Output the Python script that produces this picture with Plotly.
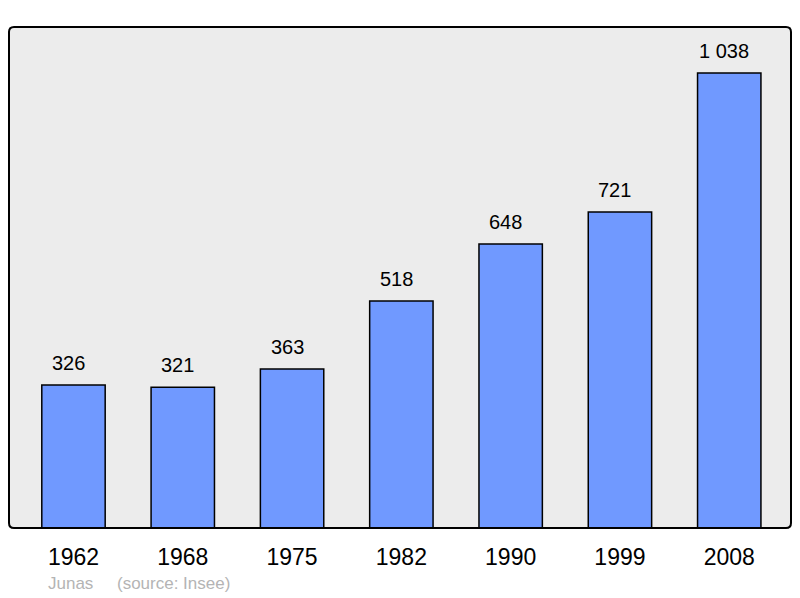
import plotly.graph_objects as go

years = ["1962", "1968", "1975", "1982", "1990", "1999", "2008"]
population = [326, 321, 363, 518, 648, 721, 1038]
source_text = "Junas     (source: Insee)"

labels = [f"{v:,}".replace(",", " ") for v in population]

fig = go.Figure()
fig.add_trace(go.Bar(
    x=years, y=population,
    width=0.58,
    marker=dict(color="#7099ff", line=dict(color="black", width=1.5)),
    hoverinfo="skip",
))

for i, (v, lab) in enumerate(zip(population, labels)):
    fig.add_annotation(x=i, y=v, text=lab, showarrow=False, yshift=22, xshift=-5,
                       font=dict(size=20, color="black", family="Liberation Sans"))

fig.add_annotation(xref="paper", yref="paper", x=0.047, y=-0.11, xanchor="left",
                   yanchor="middle", text=source_text, showarrow=False,
                   font=dict(size=17, color="#b4b4b4", family="Liberation Sans"))

rx, ry = 5 / 782, 5 / 501
path = (f"M {rx},0 L {1-rx},0 Q 1,0 1,{ry} L 1,{1-ry} Q 1,1 {1-rx},1 "
        f"L {rx},1 Q 0,1 0,{1-ry} L 0,{ry} Q 0,0 {rx},0 Z")
fig.add_shape(type="path", xref="paper", yref="paper", path=path,
              line=dict(color="black", width=2), layer="above")

fig.update_layout(
    width=800, height=598,
    margin=dict(l=9, r=9, t=27, b=70),
    paper_bgcolor="white", plot_bgcolor="#ececec",
    showlegend=False,
    xaxis=dict(type="category", range=[-0.59, 6.565], showgrid=False, zeroline=False,
               ticks="outside", ticklen=8, tickcolor="rgba(0,0,0,0)",
               tickfont=dict(size=23, color="black", family="Liberation Sans")),
    yaxis=dict(range=[0, 1143], showgrid=False, zeroline=False, showticklabels=False),
    font=dict(family="Liberation Sans"),
)

fig.write_html("out.html", config={"displayModeBar": False},
               post_script="document.body.style.margin='0';")
